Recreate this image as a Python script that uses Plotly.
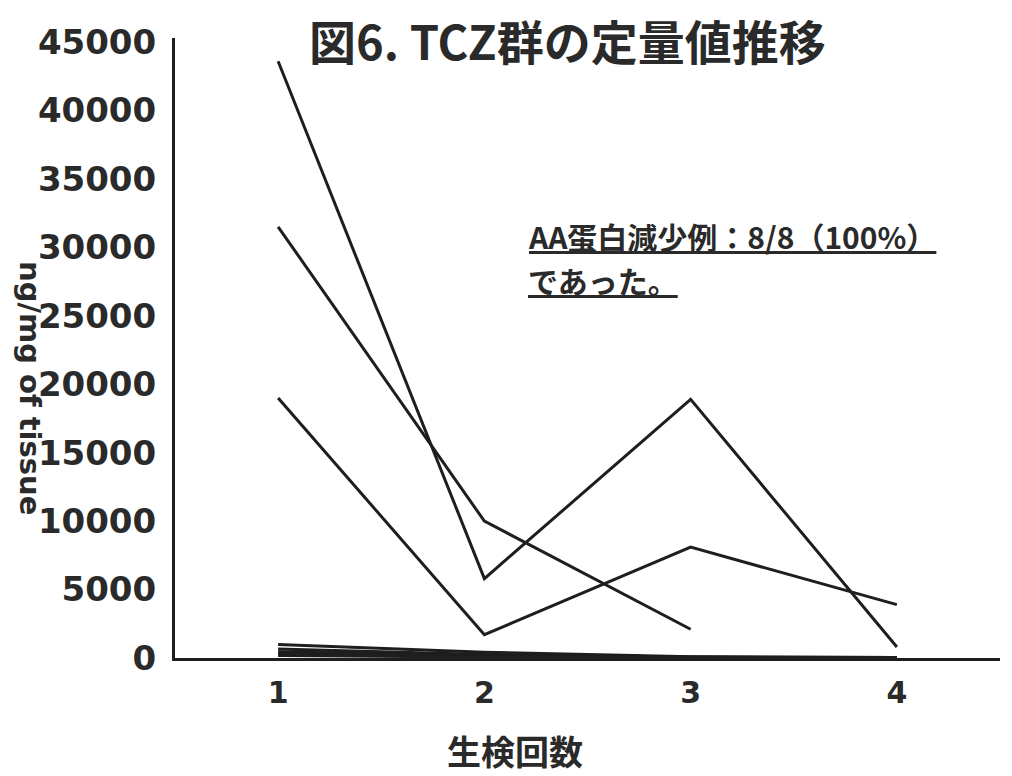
import plotly.graph_objects as go

biopsy = ["1", "2", "3", "4"]

# three large patients
pt_a = [43600, 5800, 18900, 800]
pt_b = [31500, 10000, 2100, None]
pt_c = [19000, 1700, 8100, 3900]
# small patients near zero
pt_d = [990, 420, 100, 40]
pt_e = [650, 260, 70, 30]
pt_f = [450, 160, 50, 20]
pt_g = [300, 100, 30, 10]
pt_h = [180, 70, 20, 10]

series = [pt_a, pt_b, pt_c, pt_d, pt_e, pt_f, pt_g, pt_h]

title_text = "図6. TCZ群の定量値推移"
note_line1 = "AA蛋白減少例：8/8（100%）"
note_line2 = "であった。"
x_title = "生検回数"
y_title = "ng/mg of tissue"
y_ticks = [0, 5000, 10000, 15000, 20000, 25000, 30000, 35000, 40000, 45000]

fig = go.Figure()
for s in series:
    fig.add_trace(go.Scatter(
        x=biopsy, y=s, mode="lines",
        line=dict(color="#1e1e1e", width=3),
        connectgaps=False, showlegend=False, hoverinfo="skip",
    ))

fig.update_layout(
    width=1012, height=776,
    margin=dict(l=175, r=12, t=38, b=118),
    paper_bgcolor="white", plot_bgcolor="white",
    showlegend=False,
    xaxis=dict(
        type="category", range=[-0.5, 3.5], automargin=False,
        showgrid=False, zeroline=False,
        showline=True, linecolor="#1e1e1e", linewidth=3,
        ticks="", ticklabelstandoff=6,
        tickfont=dict(family="DejaVu Sans", size=30, color="#2a2a2a", weight="bold"),
    ),
    yaxis=dict(
        range=[0, 45300], tickvals=y_ticks, tickformat="d", automargin=False,
        showgrid=False, zeroline=False,
        showline=True, linecolor="#1e1e1e", linewidth=3,
        ticks="", ticklabelstandoff=9,
        tickfont=dict(family="DejaVu Sans", size=34, color="#2a2a2a", weight="bold"),
    ),
)

def py(pix):
    return (658 - pix) / 620

def px(pix):
    return (pix - 175) / 825

fig.add_annotation(
    text="<b>" + title_text + "</b>", xref="paper", yref="paper",
    x=px(567), y=py(40), yanchor="middle", xanchor="center",
    showarrow=False,
    font=dict(family="Noto Sans CJK JP", size=47, color="#2a2a2a"),
)
fig.add_annotation(
    text="<b><u>" + note_line1 + "</u></b>",
    xref="paper", yref="paper", align="left",
    x=px(526), y=py(236), xanchor="left", yanchor="middle",
    showarrow=False,
    font=dict(family="Noto Sans CJK JP", size=30, color="#2a2a2a"),
)
fig.add_annotation(
    text="<b><u>" + note_line2 + "</u></b>",
    xref="paper", yref="paper", align="left",
    x=px(526), y=py(280), xanchor="left", yanchor="middle",
    showarrow=False,
    font=dict(family="Noto Sans CJK JP", size=30, color="#2a2a2a"),
)
fig.add_annotation(
    text="<b>" + x_title + "</b>", xref="paper", yref="paper",
    x=px(515), y=py(750), xanchor="center", yanchor="middle",
    showarrow=False,
    font=dict(family="Noto Sans CJK JP", size=34, color="#2a2a2a"),
)
fig.add_annotation(
    text="<b>" + y_title + "</b>", xref="paper", yref="paper",
    x=px(30), y=py(388), xanchor="center", yanchor="middle",
    textangle=90, showarrow=False,
    font=dict(family="DejaVu Sans", size=29, color="#2a2a2a"),
)

fig.write_html(
    "out.html",
    config={"displayModeBar": False},
    post_script="document.body.style.margin='0';document.body.style.overflow='hidden';",
)
